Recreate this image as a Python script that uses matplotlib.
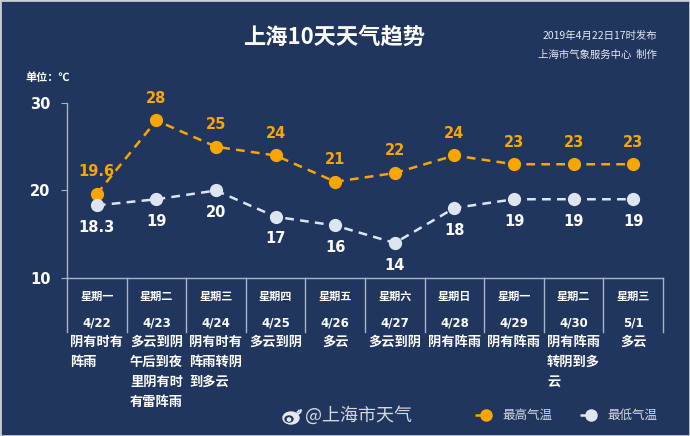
import matplotlib
matplotlib.use("Agg")
import matplotlib.pyplot as plt
from matplotlib.patches import Ellipse, Circle, Arc

plt.rcParams['font.family'] = ['Noto Sans CJK SC', 'DejaVu Sans']

# data
weekdays = ['星期一', '星期二', '星期三', '星期四', '星期五',
            '星期六', '星期日', '星期一', '星期二', '星期三']
dates = ['4/22', '4/23', '4/24', '4/25', '4/26',
         '4/27', '4/28', '4/29', '4/30', '5/1']
weather = ['阴有时有阵雨', '多云到阴午后到夜里阴有时有雷阵雨', '阴有时有阵雨转阴到多云',
           '多云到阴', '多云', '多云到阴', '阴有阵雨', '阴有阵雨', '阴有阵雨转阴到多云', '多云']
high = [19.6, 28, 25, 24, 21, 22, 24, 23, 23, 23]
low = [18.3, 19, 20, 17, 16, 14, 18, 19, 19, 19]
high_lbl = ['19.6', '28', '25', '24', '21', '22', '24', '23', '23', '23']
low_lbl = ['18.3', '19', '20', '17', '16', '14', '18', '19', '19', '19']
yticks = [10, 20, 30]

BG = '#21365f'
ORANGE = '#f7a700'
PALE = '#dde5f1'
LINE = '#a9b3c6'
W, H = 690, 436

fig = plt.figure(figsize=(6.9, 4.36), dpi=100, facecolor=BG)
fig.patches.append(plt.Rectangle((0, 0), 1, 1, transform=fig.transFigure,
                                 fill=False, ec='#c8ccd4', lw=2))
ax = fig.add_axes([67 / W, (H - 278) / H, 596 / W, 175 / H])
ax.set_facecolor(BG)
x = list(range(len(dates)))

ax.plot(x, high, ls=(0, (3.5, 2.5)), color=ORANGE, lw=1.8, marker='o', ms=8.5, zorder=3)
ax.plot(x, low, ls=(0, (3.5, 2.5)), color=PALE, lw=1.8, marker='o', ms=8.5, zorder=3)
for i in x:
    ax.annotate(high_lbl[i], (i, high[i]), xytext=(0, 16), textcoords='offset points',
                ha='center', va='center', color=ORANGE, fontsize=10.5,
                fontweight='bold', family='DejaVu Sans')
    ax.annotate(low_lbl[i], (i, low[i]), xytext=(0, -16), textcoords='offset points',
                ha='center', va='center', color='white', fontsize=10.5,
                fontweight='bold', family='DejaVu Sans')

ax.set_xlim(-0.5, len(dates) - 0.5)
ax.set_ylim(10, 30)
ax.set_yticks(yticks)
ax.set_yticklabels([str(t) for t in yticks], color='white', fontsize=10.5,
                   fontweight='bold', family='DejaVu Sans')
ax.tick_params(axis='y', colors=LINE, labelcolor='white', length=4, pad=8)
ax.set_xticks([])
for s in ['top', 'right']:
    ax.spines[s].set_visible(False)
for s in ['left', 'bottom']:
    ax.spines[s].set_color(LINE)
    ax.spines[s].set_linewidth(1)

# table below the axis (pixel -> data for y)
def py(p):
    return 10 - (p - 278) * 20 / 175

for k in range(len(dates) + 1):
    ax.plot([k - 0.5, k - 0.5], [10, py(332)], color=LINE, lw=1, clip_on=False)
for i in x:
    ax.text(i, py(296), weekdays[i], ha='center', va='center', color='white',
            fontsize=8, fontweight='bold', clip_on=False)
    ax.text(i, py(323), dates[i], ha='center', va='center', color='white',
            fontsize=8.5, fontweight='bold', family='DejaVu Sans', clip_on=False)
    txt = weather[i]
    lines = [txt[j:j + 4] for j in range(0, len(txt), 4)]
    ax.text(i, py(335), '\n'.join(lines), ha='center', va='top', multialignment='left',
            color='white', fontsize=9.5, fontweight='bold', linespacing=1.55, clip_on=False)

# header texts
fig.text(334 / W, 1 - 37 / H, '上海10天天气趋势', ha='center', va='center',
         color='white', fontsize=16, fontweight='bold')
fig.text(657 / W, 1 - 36 / H, '2019年4月22日17时发布', ha='right', va='center',
         color='#e4e8f0', fontsize=7.5)
fig.text(657 / W, 1 - 55 / H, '上海市气象服务中心  制作', ha='right', va='center',
         color='#e4e8f0', fontsize=7.5)
fig.text(25 / W, 1 - 77 / H, '单位：℃', ha='left', va='center',
         color='white', fontsize=8, fontweight='bold')

# weibo mark + account
fa = fig.add_axes([0, 0, 1, 1], facecolor='none')
fa.set_xlim(0, W)
fa.set_ylim(H, 0)
fa.axis('off')
fa.add_patch(Ellipse((291, 418), 16, 12, color='#e6e8ee'))
fa.add_patch(Ellipse((289, 419), 8, 6, color=BG))
fa.add_patch(Circle((289, 419.5), 1.6, color='#e6e8ee'))
fa.add_patch(Arc((297, 410), 8, 8, theta1=-10, theta2=100, color='#e6e8ee', lw=1.3))
fa.add_patch(Arc((297, 410), 4, 4, theta1=-10, theta2=100, color='#e6e8ee', lw=1.3))
fig.text(305 / W, 1 - 415 / H, '@上海市天气', ha='left', va='center',
         color='#d4d8e0', fontsize=13)

# legend
for x0, col, name in [(475, ORANGE, '最高气温'), (580, PALE, '最低气温')]:
    fa.plot([x0, x0 + 22], [415, 415], color=col, lw=1.8, ls=(0, (2.2, 2.2)))
    fa.plot([x0 + 11], [415], 'o', color=col, ms=8)
    fa.text(x0 + 27, 415, name, ha='left', va='center', color='#d4d8e0', fontsize=9)

fig.savefig('out.png', dpi=100, facecolor=BG)
